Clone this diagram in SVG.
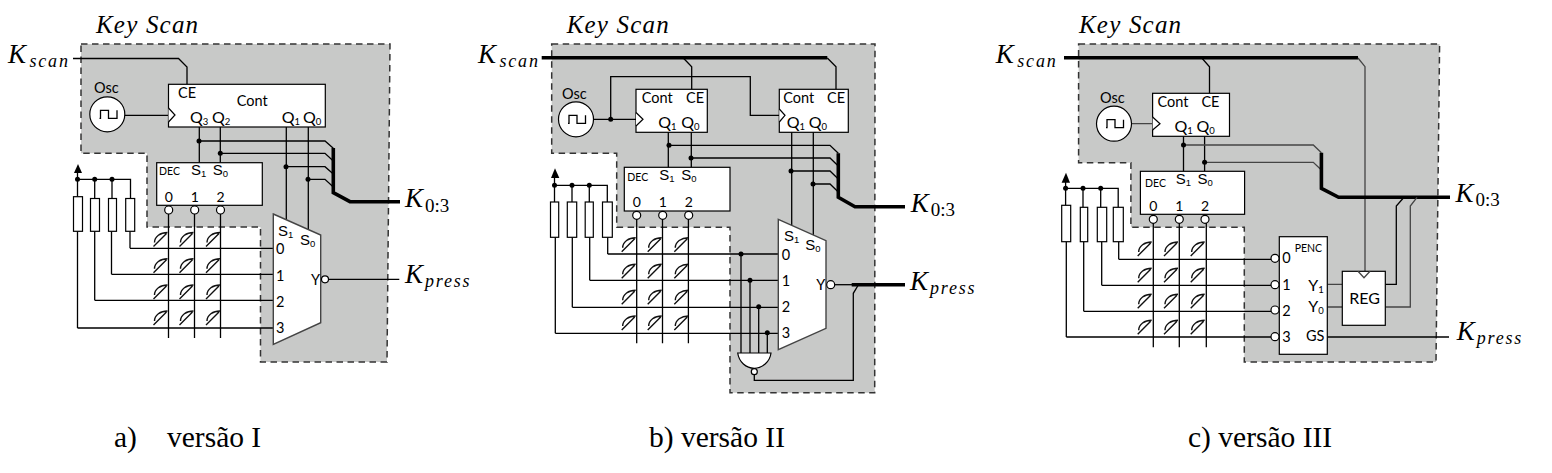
<svg xmlns="http://www.w3.org/2000/svg" xmlns:xlink="http://www.w3.org/1999/xlink" width="1552" height="473" viewBox="0 0 1552 473">
<style>
.bg{fill:#c8c9c8;stroke:#333;stroke-width:1.5;stroke-dasharray:6.5 4.5}
.w{fill:none;stroke:#000;stroke-width:1.3}
.g{fill:none;stroke:#444;stroke-width:1.3}
.t{fill:none;stroke:#000;stroke-width:3.6}
.b{fill:#fff;stroke:#000;stroke-width:1.2}
.m{fill:#fff;stroke:#444;stroke-width:1.4}
.d{fill:#000}
.o{fill:#fff;stroke:#000;stroke-width:1.2}
.a{font-family:"Liberation Serif",serif;font-style:italic;font-size:25px;letter-spacing:1.2px}
.k{font-family:"Liberation Serif",serif;font-style:italic;font-size:27px}
.ks{font-size:18px;letter-spacing:1.8px}
.kn{font-style:normal;font-size:19px;letter-spacing:0}
.c{font-family:"Liberation Serif",serif;font-size:29.5px;fill:#000}
.l{font-family:Lato,"Liberation Sans",sans-serif;font-size:14.5px;fill:#000}
.sm{font-family:Lato,"Liberation Sans",sans-serif;font-size:10.5px;fill:#000}
.n{font-family:Lato,"Liberation Sans",sans-serif;font-size:14px;fill:#000;text-anchor:middle}
.q{font-family:Lato,"Liberation Sans",sans-serif;font-size:16px;fill:#000}
.s{font-family:"Liberation Sans",sans-serif;font-size:15px;fill:#000}
.u{font-size:9.5px}
.sw{fill:none;stroke:#111;stroke-width:1.4}
</style>
<defs>
<g id="sw"><path class="sw" d="M0,0L13,-13M1,-4C1,-10 7,-14 14,-14"/></g>
<path id="wave" class="w" d="M-8,4H-7V-4H1V4H9.500V-4"/>
</defs>

<g id="panel-a">
<path id="region-a" class="bg" d="M81,44H390L387,362H260.500V227H147V153.300H81Z"/>
<g id="connectors-a">
<path class="w" d="M73,58.500H178.500L187,67V84.300"/>
<path class="w" d="M125,115.300H168.500"/>
<path class="w" d="M199.300,127V162.700M220.300,127V162.700M286.300,127V225M308.300,127V231"/>
<path class="w" d="M199.300,141H325L333.300,148.300M220.300,153.300H325L333.300,161M286.300,166.700H325L333.300,174M308.300,179.300H325L333.300,187"/>
<path class="t" d="M333.300,148V192.700L350,201.700H400"/>
<path class="w" d="M130,248.300H273.300M111.500,274.300H273.300M94.700,300.300H273.300M77.500,328H273.300"/>
<path class="w" d="M130,231.300V248.300M111.500,231.300V274.300M94.700,231.300V300.300M77.500,231.300V328"/>
<path class="w" d="M77.500,173V196.700M77.500,179.300H130.500V198.500M94.700,179.300V198.500M112,179.300V198.500"/>
<path class="w" d="M168.500,210V338M194.500,210V338M220.500,210V338"/>
<path class="w" d="M329,279.300H399.300"/>
<circle class="d" cx="199" cy="141" r="2.500"/><circle class="d" cx="220.300" cy="153.300" r="2.500"/><circle class="d" cx="286" cy="166.700" r="2.500"/><circle class="d" cx="308" cy="179.300" r="2.500"/>
<circle class="d" cx="77.500" cy="179.300" r="2.500"/><circle class="d" cx="94.700" cy="179.300" r="2.500"/><circle class="d" cx="112" cy="179.300" r="2.500"/>
<path class="d" d="M78,164L82,173H74Z"/>
</g>
<g id="osc-a"><circle class="o" cx="107.300" cy="114.300" r="17.500"/><use xlink:href="#wave" href="#wave" x="107.500" y="114.300"/><text class="l" x="94" y="93">Osc</text></g>
<g id="cont-a"><rect class="b" x="168.500" y="84.300" width="156.800" height="42.700"/><path class="b" d="M168.500,108L175,115L168.500,122"/><text class="l" x="178" y="98">CE</text><text class="l" x="236.700" y="106">Cont</text>
<text class="q" x="190" y="123">Q<tspan class="u" dy="2">3</tspan></text><text class="q" x="212" y="123">Q<tspan class="u" dy="2">2</tspan></text><text class="q" x="281.700" y="123">Q<tspan class="u" dy="2">1</tspan></text><text class="q" x="303" y="123">Q<tspan class="u" dy="2">0</tspan></text></g>
<g id="dec-a"><rect class="b" x="156.700" y="162.700" width="105.600" height="42.600"/><text class="sm" x="159" y="175">DEC</text><text class="s" x="191" y="175">S<tspan class="u" dy="2">1</tspan></text><text class="s" x="212.700" y="175">S<tspan class="u" dy="2">0</tspan></text>
<text class="n" x="168.700" y="201.700">0</text><text class="n" x="194.700" y="201.700">1</text><text class="n" x="220.500" y="201.700">2</text>
<circle class="o" cx="168.700" cy="210" r="4"/><circle class="o" cx="194.700" cy="210" r="4"/><circle class="o" cx="220.500" cy="210" r="4"/></g>
<g id="resistors-a"><rect class="b" x="73.500" y="196.700" width="9" height="34.600"/><rect class="b" x="90.500" y="198.500" width="9" height="32.800"/><rect class="b" x="108.500" y="198.500" width="8" height="32.800"/><rect class="b" x="125.700" y="198.500" width="9" height="32.800"/></g>
<g id="switches-a">
<use xlink:href="#sw" href="#sw" x="153.500" y="246.500"/><use xlink:href="#sw" href="#sw" x="179.500" y="246.500"/><use xlink:href="#sw" href="#sw" x="206" y="246.500"/>
<use xlink:href="#sw" href="#sw" x="153.500" y="272.700"/><use xlink:href="#sw" href="#sw" x="179.500" y="272.700"/><use xlink:href="#sw" href="#sw" x="206" y="272.700"/>
<use xlink:href="#sw" href="#sw" x="153.500" y="299"/><use xlink:href="#sw" href="#sw" x="179.500" y="299"/><use xlink:href="#sw" href="#sw" x="206" y="299"/>
<use xlink:href="#sw" href="#sw" x="153.500" y="325"/><use xlink:href="#sw" href="#sw" x="179.500" y="325"/><use xlink:href="#sw" href="#sw" x="206" y="325"/>
</g>
<g id="mux-a"><path class="m" d="M273.300,214L320.700,235V322.700L273.300,344.300Z"/><text class="s" x="278" y="236">S<tspan class="u" dy="2">1</tspan></text><text class="s" x="300" y="245">S<tspan class="u" dy="2">0</tspan></text>
<text class="l" x="276" y="254">0</text><text class="l" x="276" y="281">1</text><text class="l" x="276" y="306.700">2</text><text class="l" x="276" y="332.700">3</text><text class="l" x="311" y="284.700">Y</text><circle class="o" cx="325" cy="279.300" r="3.500"/></g>
<g id="labels-a">
<text class="a" x="96" y="33">Key Scan</text>
<text class="k" x="8" y="63">K<tspan class="ks" dx="3.500" dy="3.500">scan</tspan></text>
<text class="k" x="405" y="207.300">K<tspan class="kn" dx="2" dy="4.500">0:3</tspan></text>
<text class="k" x="405" y="283.300">K<tspan class="ks" dx="2" dy="4">press</tspan></text>
<text class="c" x="114" y="447.300">a)</text><text class="c" x="167" y="447.300">versão I</text>
</g>
</g>

<g id="panel-b">
<path id="region-b" class="bg" d="M551.700,44H875L874.700,392.700H730V227.300H616.700V153.300H551.700Z"/>
<g id="connectors-b">
<path class="t" d="M541.700,57.700H827.300"/>
<path class="w" d="M683.300,58L691.700,66.700V89.300M827.300,58L836,66.700V89.300"/>
<path class="w" d="M593.500,119.300H636M610.700,119.300V76.700H750.300V115.300H780"/>
<path class="w" d="M668.300,132V167.300M691.300,132V167.300M791.700,132V231M813.300,132V236"/>
<path class="w" d="M668.300,145.300H830L838.300,153.300M691.300,158H830L838.300,166M791.700,171H830L838.300,179M813.300,184H830L838.300,192"/>
<path class="t" d="M838.300,153.300V197.300L855,206.700H905"/>
<path class="w" d="M607.700,254H778.300M589.700,280.300H778.300M572.300,307.300H778.300M555.300,333.300H778.300"/>
<path class="w" d="M607.700,237.300V254M589.700,237.300V280.300M572.300,237.300V307.300M555.300,237.300V333.300"/>
<path class="w" d="M554.500,178V202M554.500,185.300H607.300V202M572,185.300V202M589.300,185.300V202"/>
<path class="w" d="M636.700,215V343.300M662.500,215V343.300M688.400,215V343.300"/>
<path class="w" d="M834.700,284.700H852"/><path class="t" d="M851.700,284.700H905"/>
<path class="w" d="M858.300,285L853.300,293.300V380.300H754.300V374"/>
<path class="w" d="M741,254V353M750,280.300V353M758.700,306.700V353M767.300,332.700V353"/>
<circle class="d" cx="610.700" cy="119.300" r="2.500"/><circle class="d" cx="669" cy="145.300" r="2.500"/><circle class="d" cx="691" cy="158" r="2.500"/><circle class="d" cx="791" cy="171" r="2.500"/><circle class="d" cx="813" cy="184" r="2.500"/>
<circle class="d" cx="554.500" cy="185.300" r="2.500"/><circle class="d" cx="572" cy="185.300" r="2.500"/><circle class="d" cx="589.300" cy="185.300" r="2.500"/>
<circle class="d" cx="741" cy="254" r="2.500"/><circle class="d" cx="750" cy="280.300" r="2.500"/><circle class="d" cx="758.700" cy="306.700" r="2.500"/><circle class="d" cx="767.300" cy="332.700" r="2.500"/>
<path class="d" d="M555,168.300L559.300,178H551Z"/>
</g>
<g id="osc-b"><circle class="o" cx="576" cy="119.300" r="17.500"/><use xlink:href="#wave" href="#wave" x="576" y="119.300"/><text class="l" x="562" y="99">Osc</text></g>
<g id="cont-b1"><rect class="b" x="636" y="89.300" width="71.300" height="43"/><path class="b" d="M636,112.500L643,119.300L636,126"/><text class="l" x="641.700" y="102.700">Cont</text><text class="l" x="686" y="102.700">CE</text><text class="q" x="658.300" y="127.700">Q<tspan class="u" dy="2">1</tspan></text><text class="q" x="681.300" y="127.700">Q<tspan class="u" dy="2">0</tspan></text></g>
<g id="cont-b2"><rect class="b" x="779.300" y="89.300" width="69" height="43"/><path class="b" d="M779.300,109L785,115.300L779.300,122"/><text class="l" x="783.300" y="102.700">Cont</text><text class="l" x="827" y="102.700">CE</text><text class="q" x="786.700" y="127.700">Q<tspan class="u" dy="2">1</tspan></text><text class="q" x="808.700" y="127.700">Q<tspan class="u" dy="2">0</tspan></text></g>
<g id="dec-b"><rect class="b" x="624.300" y="167.300" width="105.700" height="43.700"/><text class="sm" x="627.300" y="181">DEC</text><text class="s" x="659.300" y="180">S<tspan class="u" dy="2">1</tspan></text><text class="s" x="681.300" y="180">S<tspan class="u" dy="2">0</tspan></text>
<text class="n" x="636.700" y="206.700">0</text><text class="n" x="662.700" y="206.700">1</text><text class="n" x="688.700" y="206.700">2</text>
<circle class="o" cx="636.700" cy="215.300" r="4"/><circle class="o" cx="662.700" cy="215.300" r="4"/><circle class="o" cx="688.700" cy="215.300" r="4"/></g>
<g id="resistors-b"><rect class="b" x="550.500" y="202" width="8.200" height="35.300"/><rect class="b" x="567.300" y="202" width="9.400" height="35.300"/><rect class="b" x="585.200" y="202" width="8.100" height="35.300"/><rect class="b" x="602.500" y="202" width="9.800" height="35.300"/></g>
<g id="switches-b">
<use xlink:href="#sw" href="#sw" x="621.700" y="251.700"/><use xlink:href="#sw" href="#sw" x="647.700" y="251.700"/><use xlink:href="#sw" href="#sw" x="674.300" y="251.700"/>
<use xlink:href="#sw" href="#sw" x="621.700" y="278.300"/><use xlink:href="#sw" href="#sw" x="647.700" y="278.300"/><use xlink:href="#sw" href="#sw" x="674.300" y="278.300"/>
<use xlink:href="#sw" href="#sw" x="621.700" y="304.300"/><use xlink:href="#sw" href="#sw" x="647.700" y="304.300"/><use xlink:href="#sw" href="#sw" x="674.300" y="304.300"/>
<use xlink:href="#sw" href="#sw" x="621.700" y="330"/><use xlink:href="#sw" href="#sw" x="647.700" y="330"/><use xlink:href="#sw" href="#sw" x="674.300" y="330"/>
</g>
<g id="mux-b"><path class="m" d="M778.300,219.300L826,240.700V328.300L778.300,349.700Z"/><text class="s" x="784" y="240.700">S<tspan class="u" dy="2">1</tspan></text><text class="s" x="805.300" y="250">S<tspan class="u" dy="2">0</tspan></text>
<text class="l" x="781.700" y="260">0</text><text class="l" x="781.700" y="286">1</text><text class="l" x="781.700" y="312.300">2</text><text class="l" x="781.700" y="337.700">3</text><text class="l" x="816.300" y="290">Y</text><circle class="o" cx="830.700" cy="284.700" r="4"/></g>
<g id="nand-b"><path class="b" stroke-width="1.500" d="M737.700,353H771C770,362 762,368.300 754.300,368.300C746,368.300 739,362 737.700,353Z"/><circle class="o" cx="754.300" cy="371.700" r="3"/></g>
<g id="labels-b">
<text class="a" x="566.700" y="33">Key Scan</text>
<text class="k" x="478" y="63">K<tspan class="ks" dx="3.500" dy="3.500">scan</tspan></text>
<text class="k" x="910.700" y="211.700">K<tspan class="kn" dx="2" dy="4.500">0:3</tspan></text>
<text class="k" x="910" y="290">K<tspan class="ks" dx="2" dy="4">press</tspan></text>
<text class="c" x="649" y="447.300">b) versão II</text>
</g>
</g>

<g id="panel-c">
<path id="region-c" class="bg" d="M1078.600,44H1439.600L1436,362H1244.300V227.300H1130.900V162.700H1078.600Z"/>
<g id="connectors-c">
<path class="t" d="M1064,57.700H1358"/>
<path class="w" d="M1201.800,58L1209.500,66.700V93.300"/>
<path class="g" d="M1358,58L1365,66.700V271M1131.500,123.700H1152.600"/>
<path class="w" d="M1183.500,136V171.300M1204.600,136V171.300"/>
<path class="g" d="M1183.500,145H1313.300L1321.400,152.700M1204.600,162.300H1313.300L1321.400,170"/>
<path class="t" d="M1321.400,152.700V188.300L1338.600,197.300H1450"/>
<path class="w" d="M1118.700,259.300H1271M1101.700,285.300H1271M1083.700,311.300H1271M1066.300,337H1271"/>
<path class="w" d="M1118.700,241.700V259.300M1101.700,241.700V285.300M1083.700,241.700V311.300M1066.300,241.700V337"/>
<path class="w" d="M1065.600,182V205.300M1065.600,188.300H1118.200V207.300M1083,188.300V207.300M1100.700,188.300V207.300"/>
<path class="w" d="M1153.300,219V347.300M1179.300,219V347.300M1206.300,219V347.300"/>
<path class="g" d="M1327.300,284.300H1342.300M1327.300,307H1342.300"/>
<path class="w" d="M1385.300,284.300H1396.300V206L1404,197.300"/>
<path class="g" d="M1385.300,307H1410.300V206L1417,197.300"/>
<path class="w" d="M1327.300,337H1449"/>
<circle class="d" cx="1183.500" cy="145" r="2.500"/><circle class="d" cx="1204.600" cy="162.300" r="2.500"/>
<circle class="d" cx="1065.600" cy="188.300" r="2.500"/><circle class="d" cx="1083" cy="188.300" r="2.500"/><circle class="d" cx="1100.700" cy="188.300" r="2.500"/>
<path class="d" d="M1066,172.700L1070,182.700H1061.600Z"/>
</g>
<g id="osc-c"><circle class="o" cx="1114" cy="123.700" r="17.500"/><use xlink:href="#wave" href="#wave" x="1114" y="123.700"/><text class="l" x="1100" y="102.700">Osc</text></g>
<g id="cont-c"><rect class="b" x="1152.600" y="93.300" width="76.900" height="43"/><path class="b" d="M1152.600,117L1160,123.700L1152.600,130"/><text class="l" x="1157.500" y="106.700">Cont</text><text class="l" x="1201.400" y="106.700">CE</text><text class="q" x="1174.400" y="131.700">Q<tspan class="u" dy="2">1</tspan></text><text class="q" x="1196.500" y="131.700">Q<tspan class="u" dy="2">0</tspan></text></g>
<g id="dec-c"><rect class="b" x="1140.400" y="171.300" width="104.200" height="43"/><text class="sm" x="1145" y="186.700">DEC</text><text class="s" x="1175.800" y="184">S<tspan class="u" dy="2">1</tspan></text><text class="s" x="1197.500" y="184">S<tspan class="u" dy="2">0</tspan></text>
<text class="n" x="1153.300" y="210.700">0</text><text class="n" x="1179.300" y="210.700">1</text><text class="n" x="1205" y="210.700">2</text>
<circle class="o" cx="1153.300" cy="219.300" r="4"/><circle class="o" cx="1179.300" cy="219.300" r="4"/><circle class="o" cx="1205" cy="219.300" r="4"/></g>
<g id="resistors-c"><rect class="b" x="1061.700" y="205.300" width="9" height="36.400"/><rect class="b" x="1080.300" y="207.300" width="7.400" height="34.400"/><rect class="b" x="1097.300" y="207.300" width="9.400" height="34.400"/><rect class="b" x="1113.300" y="207.300" width="10" height="34.400"/></g>
<g id="switches-c">
<use xlink:href="#sw" href="#sw" x="1137.700" y="256"/><use xlink:href="#sw" href="#sw" x="1164" y="256"/><use xlink:href="#sw" href="#sw" x="1190.700" y="256"/>
<use xlink:href="#sw" href="#sw" x="1137.700" y="282.300"/><use xlink:href="#sw" href="#sw" x="1164" y="282.300"/><use xlink:href="#sw" href="#sw" x="1190.700" y="282.300"/>
<use xlink:href="#sw" href="#sw" x="1137.700" y="308.300"/><use xlink:href="#sw" href="#sw" x="1164" y="308.300"/><use xlink:href="#sw" href="#sw" x="1190.700" y="308.300"/>
<use xlink:href="#sw" href="#sw" x="1137.700" y="334.300"/><use xlink:href="#sw" href="#sw" x="1164" y="334.300"/><use xlink:href="#sw" href="#sw" x="1190.700" y="334.300"/>
</g>
<g id="penc-c"><rect class="b" x="1279.300" y="236.700" width="48" height="117.600"/><text class="sm" x="1294.700" y="251.700">PENC</text>
<circle class="o" cx="1275" cy="258.300" r="4"/><circle class="o" cx="1275" cy="284.700" r="4"/><circle class="o" cx="1275" cy="310" r="4"/><circle class="o" cx="1275" cy="336.700" r="4"/>
<text class="l" x="1282.300" y="263.300">0</text><text class="l" x="1282.300" y="290">1</text><text class="l" x="1282.300" y="316">2</text><text class="l" x="1282.300" y="341.700">3</text>
<text class="q" x="1308.300" y="291">Y<tspan class="u" dy="2">1</tspan></text><text class="q" x="1308.300" y="311.700">Y<tspan class="u" dy="2">0</tspan></text><text class="l" x="1306" y="341.300">GS</text></g>
<g id="reg-c"><rect class="b" x="1342.300" y="271.300" width="43" height="54"/><path class="g" d="M1358,271.300L1364,277.700L1370,271.300"/><text class="q" x="1349.300" y="304.300">REG</text></g>
<g id="labels-c">
<text class="a" x="1079" y="33">Key Scan</text>
<text class="k" x="995.800" y="63">K<tspan class="ks" dx="3.500" dy="3.500">scan</tspan></text>
<text class="k" x="1455.400" y="201.700">K<tspan class="kn" dx="2" dy="4.500">0:3</tspan></text>
<text class="k" x="1456.700" y="340">K<tspan class="ks" dx="2" dy="4">press</tspan></text>
<text class="c" x="1188" y="447.300">c) versão III</text>
</g>
</g>
</svg>
